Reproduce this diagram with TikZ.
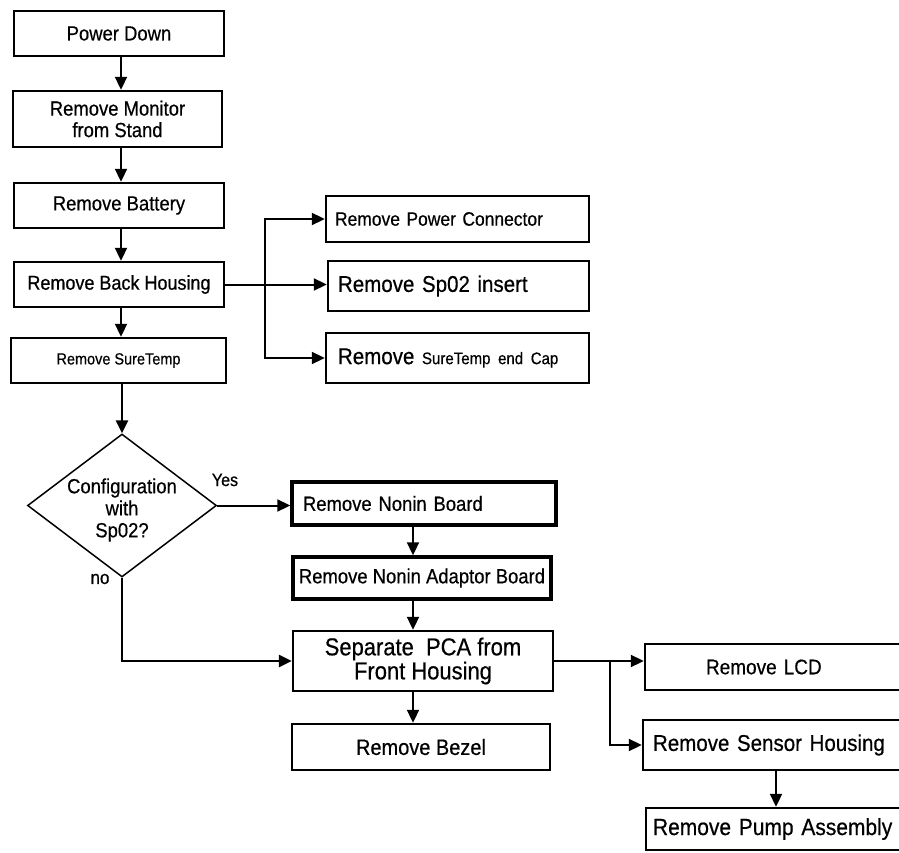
\documentclass[tikz,border=0pt]{standalone}
\usepackage{fontspec}
\setmainfont[FakeStretch=0.9,FakeBold=0.5]{Liberation Sans}
\usetikzlibrary{arrows.meta,shapes.geometric}
\tikzset{
  box/.style={draw, line width=2.4pt, inner sep=0pt, align=center},
  thickbox/.style={box, line width=3.4pt},
  arr/.style={line width=2pt, -{Triangle[length=13pt,width=12pt]}},
  ln/.style={line width=2pt},
  fA/.style={font={\fontsize{20.5}{21.5}\selectfont}},
}
\begin{document}
\begin{tikzpicture}[x=1pt,y=-1pt]
\fill[white] (0,0) rectangle (899,853);
\useasboundingbox (0,0) rectangle (899,853);

% left column
\node[box,fA,minimum width=210pt,minimum height=45pt] (b1) at (119,33.5) {Power Down};
\node[box,fA,minimum width=209pt,minimum height=56pt] (b2) at (117.5,119) {Remove Monitor\\from Stand};
\node[box,fA,minimum width=210pt,minimum height=45pt] (b3) at (119,205.5) {Remove Battery};
\node[box,font={\fontsize{20}{21}\selectfont},minimum width=210pt,minimum height=45pt] (b4) at (119,284.5) {Remove Back Housing};
\node[box,font={\fontsize{16.1}{17}\selectfont},minimum width=215pt,minimum height=45pt] (b5) at (118.5,360.5) {Remove SureTemp};

\coordinate (ax1) at (121,0);
\draw[arr] (b1.south -| ax1) -- (b2.north -| ax1);
\draw[arr] (b2.south -| ax1) -- (b3.north -| ax1);
\draw[arr] (b3.south -| ax1) -- (b4.north -| ax1);
\draw[arr] (b4.south -| ax1) -- (b5.north -| ax1);

% right branch from back housing
\node[box,align=left,font={\fontsize{19.4}{21}\selectfont},minimum height=46pt,text width=245pt,inner xsep=9pt] (pc) at (457.5,219) {Remove Power Connector};
\node[box,align=left,font={\fontsize{22.8}{24}\selectfont},minimum height=50pt,text width=241pt,inner xsep=10pt] (si) at (458.5,286) {Remove Sp02 insert};
\node[box,align=left,font={\fontsize{22.8}{24}\selectfont},minimum height=50pt,text width=239pt,inner xsep=12pt] (se) at (457.5,358) {Remove {\fontsize{16.7}{18}\selectfont SureTemp end Cap}};

\coordinate (j) at (265,284.5);
\draw[arr] (b4.east) -- (b4.east -| si.west);
\draw[arr] (j) |- (pc.west);
\draw[arr] (j) |- (se.west);

% decision
\node[draw, diamond, line width=1.5pt, minimum width=189pt, minimum height=143pt, inner sep=0pt] (dia) at (122,505.5) {};
\node[align=center, inner sep=0pt, font={\fontsize{20.5}{22}\selectfont}] (dtext) at (122,510) {Configuration\\with\\Sp02?};
\draw[arr, line width=2.8pt] (b5.south -| dia.north) -- (dia.north);

\node[font={\fontsize{17.8}{19}\selectfont}, inner sep=0pt] (yes) at (225,480) {Yes};
\node[font={\fontsize{18.9}{20}\selectfont}, inner sep=0pt] (no) at (100,579) {no};

% middle column
\node[thickbox,align=left,fA,minimum height=43pt,text width=242pt,inner xsep=11pt] (nb) at (424,503.5) {Remove Nonin Board};
\node[thickbox,fA,minimum width=258pt,minimum height=42pt] (na) at (422,578) {Remove Nonin Adaptor Board};
\node[box,font={\fontsize{24.4}{24}\selectfont},minimum width=260pt,minimum height=60pt] (pca) at (423,661) {Separate \ PCA from\\Front Housing};
\node[box,font={\fontsize{22.2}{23}\selectfont},minimum width=258pt,minimum height=46pt] (bz) at (421,747) {Remove Bezel};

\draw[arr] (dia.east) -- (dia.east -| nb.west);
\draw[arr, line width=2.6pt] (dia.south) |- (pca.west);

\coordinate (ax2) at (413,0);
\draw[arr] (nb.south -| ax2) -- (na.north -| ax2);
\draw[arr] (na.south -| ax2) -- (pca.north -| ax2);
\draw[arr] (pca.south -| ax2) -- (bz.north -| ax2);

% right column
\node[box,align=left,font={\fontsize{21.1}{22}\selectfont},minimum height=46pt,text width=138pt,inner xsep=61pt] (lcd) at (775,667) {Remove LCD};
\node[box,align=left,font={\fontsize{22.8}{24}\selectfont},minimum height=50pt,text width=242pt,inner xsep=10pt] (sh) at (774,745) {Remove Sensor Housing};
\node[box,align=left,font={\fontsize{23.3}{24}\selectfont},minimum height=42pt,text width=245pt,inner xsep=7pt] (pump) at (775.5,829) {Remove Pump Assembly};

\coordinate (k) at (610,661);
\draw[ln] (pca.east) -- (k);
\draw[arr] (k) -- (k -| lcd.west);
\draw[arr] (k) |- (sh.west);

\coordinate (ax3) at (776,0);
\draw[arr] (sh.south -| ax3) -- (pump.north -| ax3);
\end{tikzpicture}
\end{document}
